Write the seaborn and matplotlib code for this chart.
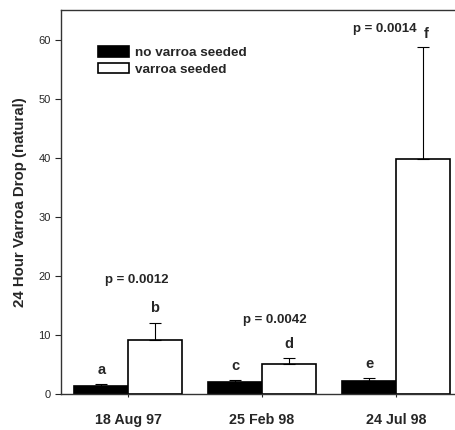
import numpy as np
import pandas as pd
import matplotlib
matplotlib.use('Agg')
import matplotlib.pyplot as plt
import seaborn as sns

dates = ['18 Aug 97', '25 Feb 98', '24 Jul 98']
groups = ['no varroa seeded', 'varroa seeded']
no_seeded = [1.3, 2.1, 2.25]
no_seeded_err = [0.4, 0.3, 0.5]
seeded = [9.2, 5.0, 39.8]
seeded_err = [2.9, 1.1, 19.0]
letters = [['a', 'c', 'e'], ['b', 'd', 'f']]
p_labels = ['p = 0.0012', 'p = 0.0042', 'p = 0.0014']

sns.set_style('ticks')
plt.rcParams['font.family'] = ['Liberation Sans', 'DejaVu Sans']

df = pd.DataFrame({
    'date': dates * 2,
    'group': [groups[0]] * 3 + [groups[1]] * 3,
    'value': no_seeded + seeded,
})

fig = plt.figure(figsize=(4.55, 4.3), dpi=100)
ax = fig.add_axes([61 / 455, 36 / 430, 394 / 455, 384 / 430])

sns.barplot(data=df, x='date', y='value', hue='group', order=dates,
            hue_order=groups, palette=['black', 'white'], edgecolor='black',
            linewidth=1.2, width=0.8, gap=0, errorbar=None, ax=ax)

# upper error bars only
errs = [no_seeded_err, seeded_err]
vals = [no_seeded, seeded]
bar_conts = list(ax.containers)
for k, cont in enumerate(bar_conts):
    xs = [b.get_x() + b.get_width() / 2 for b in cont]
    ax.errorbar(xs, vals[k], yerr=[np.zeros(3), errs[k]], fmt='none',
                ecolor='black', elinewidth=0.8, capsize=4, capthick=0.8)
    for i, x in enumerate(xs):
        top = vals[k][i] + errs[k][i]
        if k == 1 and i == 2:
            # 'f' sits next to its p-value at the top
            ax.text(x + 0.025, 60.9, letters[k][i], ha='center', va='center',
                    fontsize=10.5, fontweight='bold')
        else:
            ax.text(x, top + 2.4, letters[k][i], ha='center', va='center',
                    fontsize=10.5, fontweight='bold')

# p-values
ax.text(0.067, 19.3, p_labels[0], ha='center', va='center', fontsize=9.5, fontweight='bold')
ax.text(1.097, 12.5, p_labels[1], ha='center', va='center', fontsize=9.5, fontweight='bold')
ax.text(1.918, 61.7, p_labels[2], ha='center', va='center', fontsize=9.5, fontweight='bold')

ax.set_xlim(-0.5, 2.44)
ax.set_ylim(0, 65)
ax.set_yticks([0, 10, 20, 30, 40, 50, 60])
ax.set_xlabel('')
ax.set_ylabel('24 Hour Varroa Drop (natural)', fontsize=10.8, fontweight='bold', labelpad=8)
ax.tick_params(axis='y', labelsize=8, length=4, width=0.8, direction='out')
ax.tick_params(axis='x', labelsize=10.3, length=4, width=0.8, direction='inout', pad=12)
for lbl in ax.get_xticklabels():
    lbl.set_fontweight('bold')

for side in ['left', 'top', 'bottom']:
    ax.spines[side].set_linewidth(1.0)
    ax.spines[side].set_color('#333333')
ax.spines['right'].set_visible(False)

leg = ax.legend(loc='upper left', bbox_to_anchor=(0.062, 0.937), frameon=False,
                prop={'weight': 'bold', 'size': 9.7}, handlelength=2.3,
                handleheight=0.85, handletextpad=0.5, labelspacing=0.25)

fig.savefig('out.png', dpi=100)
